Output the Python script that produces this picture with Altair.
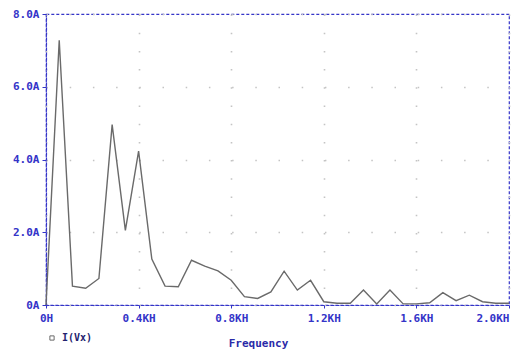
import altair as alt
import pandas as pd

# harmonic index -> frequency (Hz); step = 2000/35 Hz
harmonic = list(range(36))
amplitude = [0.0, 7.28, 0.52, 0.46, 0.73, 4.96, 2.05, 4.23, 1.26, 0.52,
             0.50, 1.23, 1.07, 0.94, 0.68, 0.23, 0.18, 0.36, 0.93, 0.41,
             0.68, 0.09, 0.05, 0.05, 0.41, 0.03, 0.41, 0.03, 0.03, 0.06,
             0.34, 0.12, 0.27, 0.09, 0.05, 0.05]
freq = [h * 2000.0 / 35.0 for h in harmonic]
series = ["I(Vx)"] * len(freq)

df = pd.DataFrame({"f": freq, "a": amplitude, "s": series})

BLUE = "#3434c8"
FONT = "DejaVu Sans Mono"

x_ticks = [0, 400, 800, 1200, 1600, 2000]
y_ticks = [0, 2, 4, 6, 8]

chart = alt.Chart(df).mark_line(strokeWidth=1.4).encode(
    x=alt.X("f:Q",
            scale=alt.Scale(domain=[0, 2000], nice=False, zero=False),
            axis=alt.Axis(values=x_ticks, title="Frequency",
                          labelExpr="datum.value == 0 ? '0H' : format(datum.value/1000, '.1f') + 'KH'",
                          labelAlign=alt.expr("datum.value >= 2000 ? 'right' : 'center'"),
                          labelFont=FONT, labelFontWeight="bold", labelFontSize=11,
                          labelColor=BLUE, labelPadding=4,
                          tickSize=3, tickColor=BLUE,
                          domainColor=BLUE, domainDash=[3, 2], domainWidth=1.2,
                          gridColor="#c4c4c4", gridDash=[1.5, 16.7], gridWidth=1.6,
                          titleFont=FONT, titleFontWeight="bold", titleFontSize=11,
                          titleColor="#2a2aa8", titleX=212, titleY=38,
                          titleBaseline="middle", titleAlign="center")),
    y=alt.Y("a:Q",
            scale=alt.Scale(domain=[0, 8], nice=False),
            axis=alt.Axis(values=y_ticks, title=None,
                          labelExpr="datum.value == 0 ? '0A' : format(datum.value, '.1f') + 'A'",
                          labelFont=FONT, labelFontWeight="bold", labelFontSize=11,
                          labelColor=BLUE, labelPadding=3,
                          tickSize=4, tickColor=BLUE,
                          domainColor=BLUE, domainDash=[3, 2], domainWidth=1.2,
                          gridColor="#c4c4c4", gridDash=[1.5, 21.7], gridWidth=1.6)),
    color=alt.Color("s:N",
                    scale=alt.Scale(range=["#6a6a6a"]),
                    legend=alt.Legend(title=None, orient="none",
                                      legendX=1, legendY=319,
                                      symbolType="square", symbolSize=18,
                                      symbolStrokeWidth=1, symbolFillColor="white",
                                      labelFont=FONT, labelFontWeight="bold",
                                      labelFontSize=10, labelColor="#22226e",
                                      labelOffset=5)),
).properties(
    width=463,
    height=291,
    autosize=alt.AutoSizeParams(type="none"),
    padding={"left": 38, "top": 6, "right": 2, "bottom": 44},
).configure(
    background="white"
).configure_view(
    stroke=BLUE, strokeDash=[3, 2], strokeWidth=1.2
)

chart.save("out.html", embed_options={"renderer": "svg", "actions": False})
